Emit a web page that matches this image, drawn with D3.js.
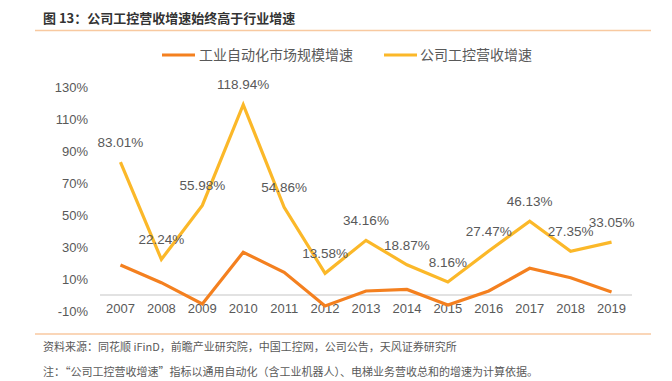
<!DOCTYPE html>
<html>
<head>
<meta charset="utf-8">
<script src="https://cdn.jsdelivr.net/npm/d3@7"></script>
<style>
  html, body { margin: 0; padding: 0; background: #fff; }
  svg { display: block; }
</style>
</head>
<body>
<svg id="chart" width="672" height="381"></svg>
<script>
const years = ["2007","2008","2009","2010","2011","2012","2013","2014","2015","2016","2017","2018","2019"];
const industryGrowth = [18.7, 7.7, -5.6, 26.7, 14.2, -6.9, 2.5, 3.5, -6.3, 2.5, 16.7, 10.8, 1.9];
const companyGrowth = [83.01, 22.24, 55.98, 118.94, 54.86, 13.58, 34.16, 18.87, 8.16, 27.47, 46.13, 27.35, 33.05];
const yTicks = [-10, 10, 30, 50, 70, 90, 110, 130];
const seriesNames = ["工业自动化市场规模增速", "公司工控营收增速"];
const titleText = "图 13：公司工控营收增速始终高于行业增速";
const sourceText = "资料来源：同花顺 iFinD，前瞻产业研究院，中国工控网，公司公告，天风证券研究所";
const noteText = "注：“公司工控营收增速”指标以通用自动化（含工业机器人）、电梯业务营收总和的增速为计算依据。";

const colors = ["#F4801F", "#FBB829"];
const cjk = "'Noto Sans CJK SC', 'Noto Sans', sans-serif";
const num = "'Liberation Sans', Arial, sans-serif";
const textColor = "#595959";

const svg = d3.select("#chart");

// Title
svg.append("text").attr("x", 43).attr("y", 23)
  .attr("font-family", cjk).attr("font-size", 13).attr("font-weight", "bold")
  .attr("fill", "#333").text(titleText);

// rules
svg.append("line").attr("x1", 35).attr("x2", 651).attr("y1", 30.5).attr("y2", 30.5)
  .attr("stroke", "#F8C9A0").attr("stroke-width", 1.5);
svg.append("line").attr("x1", 35).attr("x2", 651).attr("y1", 334).attr("y2", 334)
  .attr("stroke", "#F8C9A0").attr("stroke-width", 1.5);

// Legend
const legendItems = [{x: 162, tx: 199}, {x: 384, tx: 420}];
legendItems.forEach((l, i) => {
  svg.append("line").attr("x1", l.x).attr("x2", l.x + 33).attr("y1", 55).attr("y2", 55)
    .attr("stroke", colors[i]).attr("stroke-width", 3);
  svg.append("text").attr("x", l.tx).attr("y", 55).attr("dy", "0.35em")
    .attr("font-family", cjk).attr("font-size", 14).attr("fill", textColor)
    .text(seriesNames[i]);
});

// Scales
const x = d3.scaleBand().domain(years).range([100, 632]);
const y = d3.scaleLinear().domain([-10, 130]).range([311, 87]);

// Y axis
const yAxis = svg.append("g").attr("transform", "translate(88,0)")
  .call(d3.axisLeft(y).tickValues(yTicks).tickSize(0).tickPadding(0).tickFormat(d => d + "%"));
yAxis.select(".domain").remove();
yAxis.selectAll("text").attr("font-family", num).attr("font-size", 13).attr("fill", textColor);

// Zero line
svg.append("line").attr("x1", 100).attr("x2", 632).attr("y1", y(0)).attr("y2", y(0))
  .attr("stroke", "#D9D9D9").attr("stroke-width", 1.5);

// X axis labels
const xAxis = svg.append("g").attr("transform", "translate(0,304)")
  .call(d3.axisBottom(x).tickSize(0).tickPadding(0));
xAxis.select(".domain").remove();
xAxis.selectAll("text").attr("font-family", num).attr("font-size", 13).attr("fill", textColor);

const cx = d => x(d) + x.bandwidth() / 2;
const line = d3.line().x((d, i) => cx(years[i])).y(d => y(d));

[industryGrowth, companyGrowth].forEach((s, i) => {
  svg.append("path").datum(s).attr("d", line).attr("fill", "none")
    .attr("stroke", colors[i]).attr("stroke-width", 3.2)
    .attr("stroke-linejoin", "miter");
});

// data labels for company series
svg.append("g").selectAll("text").data(companyGrowth).join("text")
  .attr("x", (d, i) => cx(years[i]))
  .attr("y", d => y(d) - 20)
  .attr("dy", "0.35em")
  .attr("text-anchor", "middle")
  .attr("font-family", num).attr("font-size", 13.5).attr("fill", textColor)
  .text(d => d.toFixed(2) + "%");

// Footer
svg.append("text").attr("x", 43).attr("y", 347).attr("dy", "0.35em")
  .attr("font-family", cjk).attr("font-size", 11).attr("fill", "#595959").text(sourceText);
svg.append("text").attr("x", 43).attr("y", 372).attr("dy", "0.35em")
  .attr("font-family", cjk).attr("font-size", 11).attr("fill", "#595959").text(noteText);
</script>
</body>
</html>
